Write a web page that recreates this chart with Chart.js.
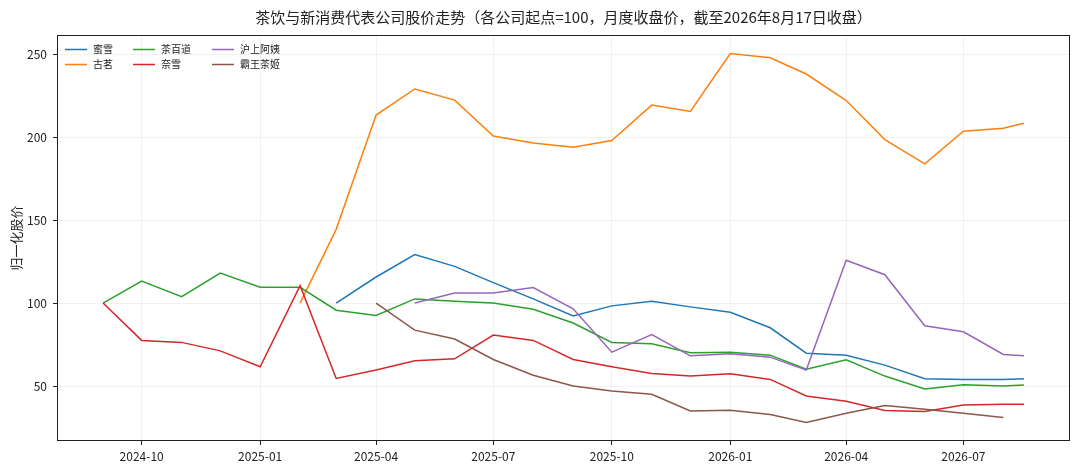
<!DOCTYPE html>
<html>
<head>
<meta charset="utf-8">
<script src="https://cdn.jsdelivr.net/npm/chart.js@4.4.1/dist/chart.umd.min.js"></script>
<style>
  html, body { margin: 0; padding: 0; background: #fff; }
  #wrap { width: 1080px; height: 472px; position: relative; }
</style>
</head>
<body>
<div id="wrap"><canvas id="c"></canvas></div>
<script>
// ---- data ----
const dates = ['2024-09-01','2024-10-01','2024-11-01','2024-12-01','2025-01-01','2025-02-01','2025-03-01',
  '2025-04-01','2025-05-01','2025-06-01','2025-07-01','2025-08-01','2025-09-01','2025-10-01','2025-11-01',
  '2025-12-01','2026-01-01','2026-02-01','2026-03-01','2026-04-01','2026-05-01','2026-06-01','2026-07-01',
  '2026-08-01','2026-08-17'];
const seriesNames = ['蜜雪','古茗','茶百道','奈雪','沪上阿姨','霸王茶姬'];
const mixue   = [null,null,null,null,null,null,100,115.7,129.2,122.1,112.3,102.5,92.2,98.3,101.1,97.7,94.5,85.1,69.8,68.6,62.6,54.4,54.0,54.0,54.4];
const guming  = [null,null,null,null,null,100,144.4,213.3,229,222.3,200.7,196.5,193.9,197.9,219.3,215.5,250.4,247.8,238,222,198.5,183.9,203.5,205.3,208.3];
const chabaidao = [100,113.3,103.9,118.1,109.5,109.5,95.7,92.5,102.5,101.1,100,96.3,88,76.3,75.5,70,70.4,68.6,60.2,65.8,56,48.2,50.8,50,50.6];
const naixue  = [100,77.5,76.3,71.2,61.6,110.5,54.6,59.6,65.2,66.4,80.7,77.5,66,61.6,57.6,56,57.4,54,44,40.8,35.2,34.6,38.6,39,39];
const hushang = [null,null,null,null,null,null,null,null,100,106,106,109.3,96.5,70.4,81,68.2,69.4,67.4,59.6,125.8,117.1,86.3,82.7,69,68.2];
const bawang  = [null,null,null,null,null,null,null,100,83.7,78.3,66,56.5,50,47,45,35,35.4,32.8,28,33.6,38.2,36,33.6,31,null];
const xTickLabels = ['2024-10','2025-01','2025-04','2025-07','2025-10','2026-01','2026-04','2026-07'];
const yTickValues = [50,100,150,200,250];
const titleText = '茶饮与新消费代表公司股价走势（各公司起点=100，月度收盘价，截至2026年8月17日收盘）';
const yAxisLabel = '归一化股价';
const colors = ['#1f77b4','#ff7f0e','#2ca02c','#d62728','#9467bd','#8c564b'];

// ---- helpers ----
const DAY = 86400000;
const toDay = s => { const p = s.split('-').map(Number); return Date.UTC(p[0], p[1]-1, p[2] || 1) / DAY; };
const dayVals = dates.map(toDay);
const allSeries = [mixue, guming, chabaidao, naixue, hushang, bawang];
const xTickVals = xTickLabels.map(toDay);
const tickLabelMap = {};
xTickVals.forEach((v, i) => tickLabelMap[v] = xTickLabels[i]);

// matplotlib-like 5% autoscale margins
const xMinD = Math.min(...dayVals), xMaxD = Math.max(...dayVals);
const xm = (xMaxD - xMinD) * 0.05;
const allY = allSeries.flat().filter(v => v !== null);
const yMinD = Math.min(...allY), yMaxD = Math.max(...allY);
const ym = (yMaxD - yMinD) * 0.05;

const FONT = '"Noto Sans CJK SC", "Noto Sans", sans-serif';
Chart.defaults.font.family = FONT;
Chart.defaults.color = '#222';

const datasets = allSeries.map((arr, i) => ({
  label: seriesNames[i],
  data: arr.map((v, j) => v === null ? null : { x: dayVals[j], y: v }).filter(p => p !== null),
  borderColor: colors[i],
  backgroundColor: colors[i],
  borderWidth: 1.5,
  pointRadius: 0,
  fill: false,
  tension: 0,
  order: allSeries.length - i
}));

const framePlugin = {
  id: 'frame',
  afterDatasetsDraw(chart) {
    const { ctx, chartArea: a } = chart;
    ctx.save();
    ctx.strokeStyle = '#222';
    ctx.lineWidth = 1;
    ctx.strokeRect(Math.round(a.left) + 0.5, Math.round(a.top) + 0.5, Math.round(a.right - a.left) - 1, Math.round(a.bottom - a.top) - 1);
    ctx.restore();
  }
};

// title centred over the axes (as matplotlib does)
const axesTitlePlugin = {
  id: 'axesTitle',
  afterDraw(chart) {
    const { ctx, chartArea: a } = chart;
    ctx.save();
    ctx.font = '15px ' + FONT;
    ctx.fillStyle = '#222';
    ctx.textAlign = 'center';
    ctx.textBaseline = 'middle';
    ctx.fillText(titleText, (a.left + a.right) / 2, 17);
    ctx.restore();
  }
};

const legendPlugin = {
  id: 'mplLegend',
  afterDraw(chart) {
    const { ctx, chartArea: a } = chart;
    const colX = [8, 76, 155];
    const rowY = [14.5, 29.5];
    ctx.save();
    ctx.font = '10px ' + FONT;
    ctx.textBaseline = 'middle';
    ctx.textAlign = 'left';
    chart.data.datasets.forEach((ds, i) => {
      const col = Math.floor(i / 2), row = i % 2;
      const x = a.left + colX[col], y = a.top + rowY[row];
      ctx.strokeStyle = ds.borderColor;
      ctx.lineWidth = 1.5;
      ctx.beginPath();
      ctx.moveTo(x, y);
      ctx.lineTo(x + 22, y);
      ctx.stroke();
      ctx.fillStyle = '#222';
      ctx.fillText(ds.label, x + 28, y);
    });
    ctx.restore();
  }
};

new Chart(document.getElementById('c'), {
  type: 'line',
  data: { datasets },
  plugins: [framePlugin, axesTitlePlugin, legendPlugin],
  options: {
    responsive: true,
    maintainAspectRatio: false,
    animation: false,
    layout: { padding: { left: 0, right: 10, top: 35, bottom: 0 } },
    plugins: {
      legend: { display: false },
      tooltip: { enabled: false },
      title: { display: false }
    },
    scales: {
      x: {
        type: 'linear',
        min: xMinD - xm,
        max: xMaxD + xm,
        afterBuildTicks: s => { s.ticks = xTickVals.map(v => ({ value: v })); },
        afterFit: s => { s.height = 31; },
        ticks: {
          autoSkip: false,
          maxRotation: 0,
          padding: 4,
          color: '#222',
          font: { size: 12 },
          callback: v => tickLabelMap[v] || ''
        },
        grid: { color: 'rgba(0,0,0,0.07)', lineWidth: 0.8, tickColor: '#222', tickLength: 4, tickWidth: 1 },
        border: { display: false }
      },
      y: {
        type: 'linear',
        min: yMinD - ym,
        max: yMaxD + ym,
        afterBuildTicks: s => { s.ticks = yTickValues.map(v => ({ value: v })); },
        afterFit: s => { s.width = 57; },
        ticks: { padding: 6, color: '#222', font: { size: 12 } },
        grid: { color: 'rgba(0,0,0,0.07)', lineWidth: 0.8, tickColor: '#222', tickLength: 4, tickWidth: 1 },
        border: { display: false },
        title: { display: true, text: yAxisLabel, color: '#222', font: { size: 13 }, padding: { top: 8, bottom: 0 } }
      }
    }
  }
});
</script>
</body>
</html>
